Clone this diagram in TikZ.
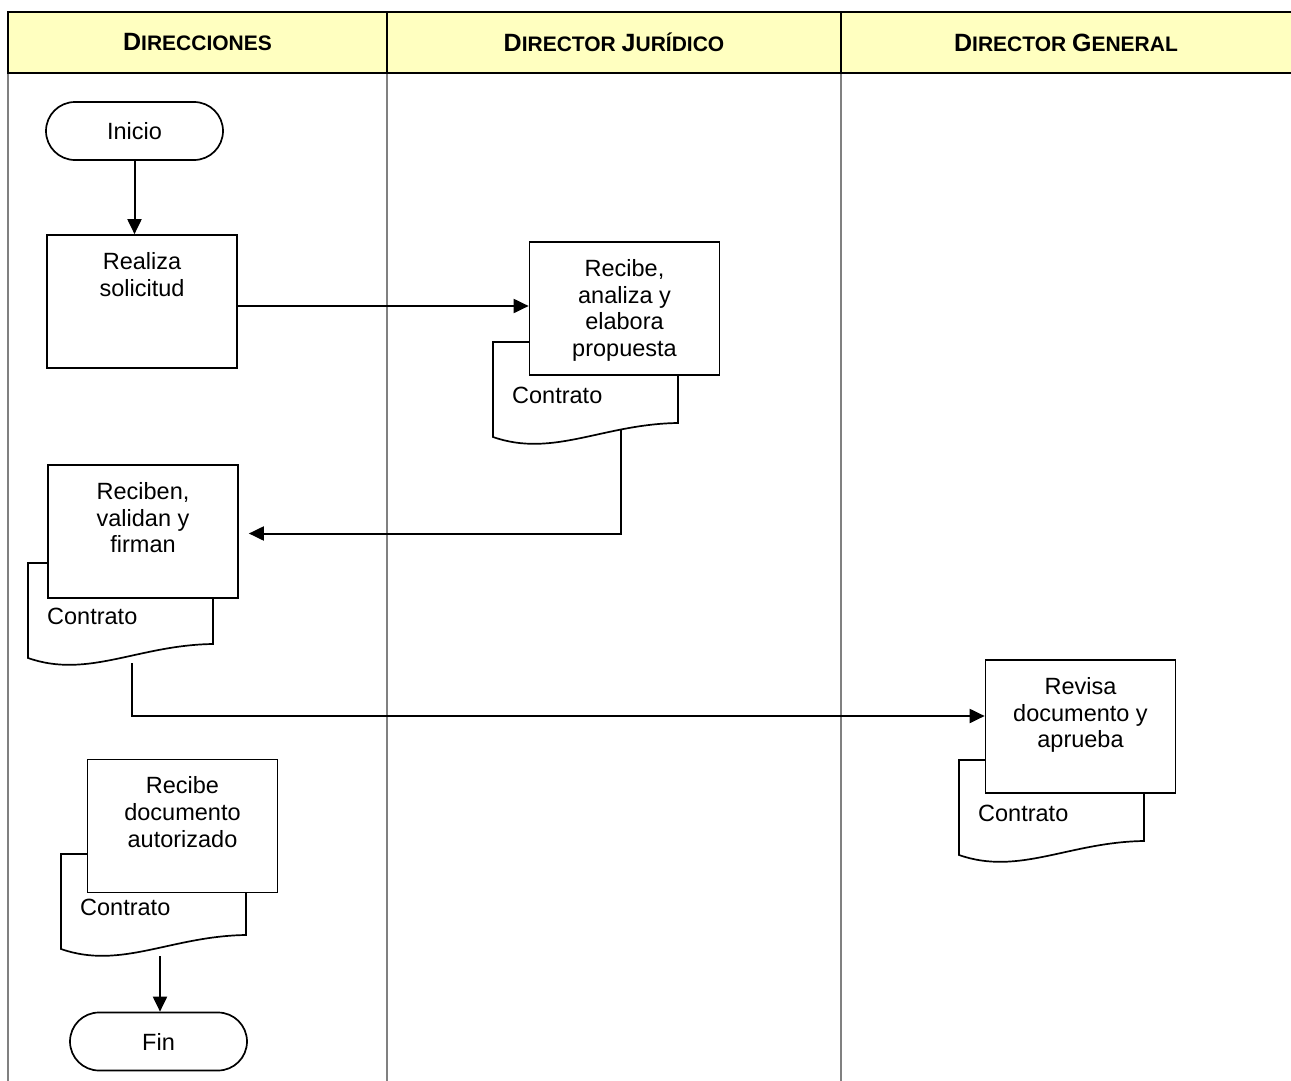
\documentclass[tikz,border=0pt]{standalone}
\usepackage{fontspec}
\setmainfont{Liberation Sans}
\usetikzlibrary{positioning,calc,arrows.meta}
\definecolor{hdryellow}{RGB}{255,255,192}
\definecolor{lanegray}{RGB}{128,128,128}
\newcommand{\smcap}[2]{{\fontsize{25}{25}\selectfont #1}#2}
\begin{document}
\begin{tikzpicture}[x=1pt,y=-1pt,line join=miter,
  proc/.style={draw,fill=white,line width=1.7pt,minimum width=190pt,minimum height=133pt,inner sep=0pt},
  term/.style={draw,fill=white,line width=1.7pt,rounded corners=29pt,minimum width=177pt,minimum height=58pt,font=\fontsize{23.5}{23.5}\selectfont},
  txt/.style={align=center,inner sep=0pt,font=\fontsize{23.5}{26.7}\selectfont},
  doctxt/.style={anchor=west,inner sep=0pt,font=\fontsize{23.5}{23.5}\selectfont},
  hdr/.style={inner sep=0pt,font=\bfseries\fontsize{21}{21}\selectfont},
  flow/.style={line width=2pt,-{Triangle[length=15pt,width=14pt]}},
  link/.style={line width=1.7pt}]
\useasboundingbox (0,0) rectangle (1291,1081);
% header
\fill[hdryellow] (8,12) rectangle (1292,73);
\draw[line width=2.5pt] (1292,12) -- (8,12) -- (8,73) -- (1292,73);
\foreach \x in {387,841}
{\draw[line width=2pt] (\x,12) -- (\x,73);}
\node[hdr] (hDir) at (197.5,42.5) {\smcap{D}{IRECCIONES}};
\node[hdr] (hJur) at (614,42.5) {\smcap{D}{IRECTOR} \smcap{J}{URÍDICO}};
\node[hdr] (hGen) at (1066,42.5) {\smcap{D}{IRECTOR} \smcap{G}{ENERAL}};
% lanes
\foreach \x in {8,387,841}
{\draw[lanegray,line width=2pt] (\x,74) -- (\x,1082);}
% documents
\foreach \nm/\x/\y in {docA/493/342,docB/28/563,docC/959/760,docD/61/854}
{\draw[link,fill=white] (\x,\y) -- (\x+185,\y) -- (\x+185,\y+81) .. controls (\x+110,\y+82) and (\x+60,\y+116) .. (\x,\y+95) -- cycle;
\node[doctxt] (\nm) at (\x+19,\y+53) {Contrato};}
% steps
\node[term] (inicio) at (134.5,131) {Inicio};
\node[proc] (realiza) at (142,301.5) {};
\node[txt,below=18pt of realiza.north] (realizaT) {Realiza\\solicitud};
\node[proc] (recibe) at (624.5,308.5) {};
\node[txt,below=18pt of recibe.north] (recibeT) {Recibe,\\analiza y\\elabora\\propuesta};
\node[proc] (reciben) at (143,531.5) {};
\node[txt,below=18pt of reciben.north] (recibenT) {Reciben,\\validan y\\firman};
\node[proc] (revisa) at (1080.5,726.5) {};
\node[txt,below=18pt of revisa.north] (revisaT) {Revisa\\documento y\\aprueba};
\node[proc] (autoriza) at (182.5,826) {};
\node[txt,below=18pt of autoriza.north] (autorizaT) {Recibe\\documento\\autorizado};
\node[term] (fin) at (158.5,1041.5) {Fin};
% connectors
\coordinate (outA) at (621,430);
\coordinate (outB) at (132,663);
\coordinate (outD) at (160,956);
\draw[flow] (inicio) -- (inicio |- realiza.north);
\draw[flow] ($(realiza.east)+(0,4.5)$) -- ($(realiza.east -| recibe.west)+(0,4.5)$);
\draw[flow] (outA) |- ($(reciben.east)+(10,2)$);
\draw[flow] (outB) |- ($(revisa.west)+(0,-10.5)$);
\draw[flow] (outD) -- (outD |- fin.north);
\end{tikzpicture}
\end{document}
